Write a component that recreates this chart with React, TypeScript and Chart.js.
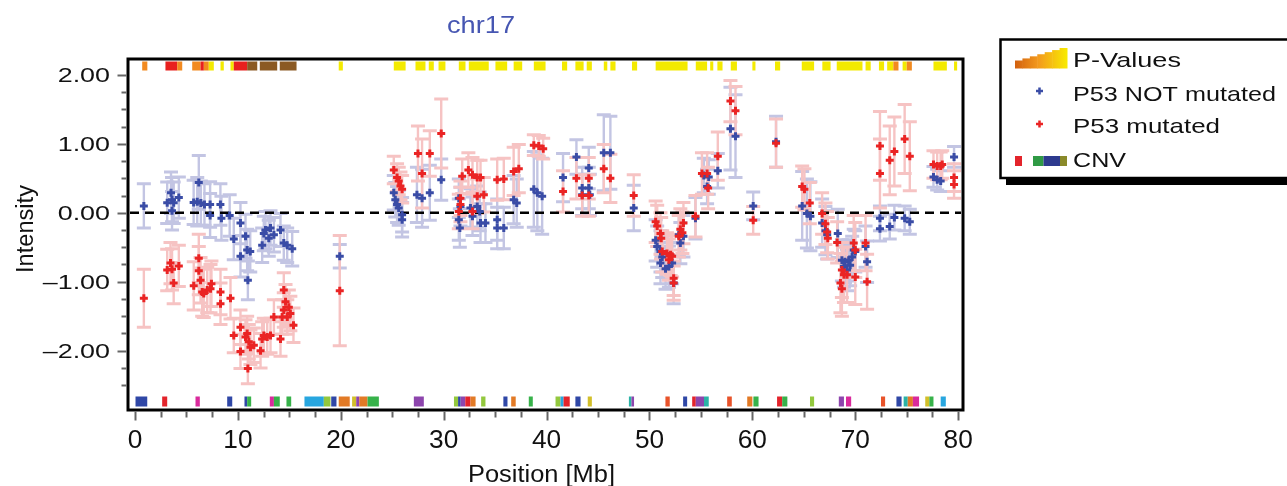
import React, { useEffect, useRef } from "react";
import { Chart, registerables } from "chart.js";

Chart.register(...registerables);

// ---------- data ----------
const notMutX = [0.86, 3.13, 3.5, 3.6, 3.76, 4.26, 3.6, 6.2, 5.7, 6.05, 6.4, 6.75, 7.3, 7.3, 8.3, 8.4, 9.2, 10.25, 9.6, 10.74, 10.25, 10.9, 11.2, 10.97, 12.36, 12.52, 12.68, 13.17, 13.5, 14.14, 14.46, 14.79, 15.28, 13.0, 19.9,
  25.15, 25.3, 25.47, 25.63, 25.96, 25.96, 27.4, 27.9, 28.65, 29.76, 31.47, 31.63, 31.47, 31.57, 32.6, 32.8, 33.26, 33.5, 33.58, 34.06, 35.2, 35.2, 35.84, 36.8, 37.1, 38.76, 39.1, 39.57, 41.6, 42.9, 43.46, 44.1, 44.1, 43.46, 44.2, 45.56, 46.2, 48.47,
  50.6, 50.75, 51.07, 51.24, 51.07, 51.56, 51.89, 52.2, 52.35, 52.85, 53.0, 53.3, 54.47, 55.28, 55.76, 55.6, 56.64, 57.87, 58.36, 60.08, 62.3, 64.84, 65.3, 65.64, 66.78, 67.1, 67.27, 68.3, 68.7, 69.0, 69.36, 68.9, 69.2, 69.5, 69.7, 70.0, 69.85, 71.0, 71.15, 72.4, 72.4, 73.35, 73.8, 74.8, 75.3, 77.6, 77.96, 78.3, 79.6];
const notMutY = [0.10, 0.145, 0.29, 0.19, 0.145, 0.22, 0.03, 0.44, 0.15, 0.16, 0.14, 0.12, 0.12, -0.04, 0.12, -0.08, -0.04, -0.15, -0.38, -0.34, -0.63, -0.54, -0.56, -0.98, -0.47, -0.30, -0.25, -0.22, -0.32, -0.25, -0.44, -0.47, -0.52, -0.37, -0.63,
  0.29, 0.19, 0.12, 0.07, -0.03, -0.10, 0.26, 0.21, 0.29, 0.48, 0.21, 0.09, -0.10, -0.22, 0.07, -0.05, 0.09, 0.02, -0.15, -0.15, -0.10, -0.22, -0.22, 0.19, 0.14, 0.34, 0.29, 0.24, 0.51, 0.81, 0.36, 0.36, 0.65, 0.26, 0.26, 0.87, 0.87, 0.07,
  -0.40, -0.49, -0.56, -0.64, -0.73, -0.81, -0.78, -0.73, -1.02, -0.32, -0.44, -0.34, -0.08, 0.54, 0.52, 0.38, 0.61, 1.22, 1.11, 0.10, 1.03, 0.10, -0.01, -0.05, -0.15, -0.26, -0.32, -0.30, -0.69, -0.71, -0.69, -0.78, -0.83, -0.76, -0.64, -0.56, -0.54, -0.49, -0.71, -0.08, -0.23, -0.20, -0.07, -0.08, -0.13, 0.52, 0.48, 0.46, 0.81];
const notMutErr = [0.32, 0.3, 0.3, 0.32, 0.3, 0.3, 0.28, 0.39, 0.32, 0.35, 0.32, 0.3, 0.33, 0.32, 0.3, 0.32, 0.3, 0.3, 0.3, 0.32, 0.3, 0.3, 0.3, 0.28, 0.25, 0.25, 0.27, 0.25, 0.25, 0.24, 0.25, 0.25, 0.25, 0.26, 0.17,
  0.25, 0.25, 0.26, 0.25, 0.25, 0.25, 0.4, 0.42, 0.4, 0.3, 0.28, 0.28, 0.3, 0.28, 0.28, 0.28, 0.3, 0.28, 0.28, 0.28, 0.3, 0.3, 0.3, 0.35, 0.35, 0.55, 0.55, 0.55, 0.35, 0.25, 0.3, 0.3, 0.3, 0.3, 0.3, 0.55, 0.53, 0.33,
  0.3, 0.3, 0.3, 0.3, 0.3, 0.3, 0.3, 0.3, 0.3, 0.3, 0.3, 0.3, 0.3, 0.25, 0.25, 0.25, 0.25, 0.6, 0.6, 0.2, 0.37, 0.5, 0.5, 0.5, 0.35, 0.35, 0.35, 0.35, 0.3, 0.3, 0.3, 0.3, 0.3, 0.3, 0.3, 0.3, 0.3, 0.3, 0.3, 0.18, 0.18, 0.18, 0.18, 0.18, 0.18, 0.15, 0.15, 0.15, 0.15];

const mutX = [0.86, 3.13, 3.45, 3.6, 4.26, 3.76, 6.2, 6.2, 6.37, 5.71, 6.53, 7.02, 7.34, 7.43, 6.68, 8.31, 8.31, 9.28, 9.6, 10.25, 10.74, 10.9, 11.06, 11.22, 10.25, 11.55, 12.2, 12.36, 12.52, 12.85, 13.17, 14.14, 10.97, 13.5, 14.3, 14.46, 14.63, 14.95, 15.1, 15.4, 14.46, 14.8, 19.9,
  25.15, 25.47, 25.63, 25.8, 25.96, 27.5, 27.9, 28.65, 29.76, 31.8, 32.4, 32.8, 33.26, 33.58, 31.63, 31.63, 31.47, 32.8, 33.26, 33.9, 35.2, 35.84, 36.8, 37.3, 38.76, 39.24, 39.67, 41.6, 42.9, 44.1, 43.46, 44.1, 45.56, 46.2, 48.47,
  50.6, 50.75, 51.07, 51.14, 51.24, 51.7, 52.05, 51.89, 52.2, 52.35, 52.35, 52.85, 53.0, 53.3, 53.2, 54.47, 55.1, 55.6, 55.7, 56.64, 57.87, 58.36, 60.08, 62.3, 64.84, 65.06, 65.58, 66.78, 67.1, 67.27, 67.33, 68.24, 68.7, 68.9, 69.2, 68.56, 68.7, 70.0, 69.85, 70.0, 71.0, 71.15, 72.4, 72.4, 73.35, 73.8, 74.8, 75.3, 77.6, 77.96, 78.3, 78.45, 79.6, 79.6];
const mutY = [-1.24, -0.83, -0.73, -0.82, -0.77, -1.02, -0.66, -0.84, -0.98, -1.06, -1.15, -1.12, -1.10, -1.03, -1.17, -1.15, -1.32, -1.24, -1.78, -1.66, -1.80, -1.75, -1.87, -1.95, -2.01, -1.92, -2.00, -1.83, -1.78, -1.80, -1.78, -1.83, -2.26, -1.51, -1.51, -1.12, -1.29, -1.37, -1.46, -1.63, -1.41, -1.51, -1.13,
  0.62, 0.51, 0.46, 0.39, 0.34, 0.86, 0.57, 0.86, 1.15, 0.53, 0.62, 0.55, 0.51, 0.51, 0.21, 0.12, 0.02, 0.02, 0.24, 0.26, 0.48, 0.49, 0.60, 0.64, 0.98, 0.97, 0.93, 0.31, 0.50, 0.50, 0.25, 0.25, 0.64, 0.50, 0.25,
  -0.13, -0.19, -0.30, -0.37, -0.56, -0.59, -0.61, -0.68, -0.63, -0.95, -1.02, -0.34, -0.24, -0.15, -0.29, -0.05, 0.57, 0.57, 0.36, 0.82, 1.62, 1.48, -0.11, 1.01, 0.38, 0.34, 0.14, -0.01, -0.16, -0.28, -0.37, -0.43, -0.83, -0.90, -0.90, -1.02, -1.10, -0.93, -0.44, -0.54, -0.44, -1.00, 0.97, 0.57, 0.76, 0.89, 1.07, 0.82, 0.70, 0.68, 0.68, 0.70, 0.51, 0.41];
const mutErr = [0.42, 0.3, 0.3, 0.3, 0.3, 0.3, 0.35, 0.35, 0.33, 0.35, 0.35, 0.33, 0.35, 0.33, 0.35, 0.33, 0.3, 0.3, 0.25, 0.25, 0.25, 0.25, 0.25, 0.25, 0.25, 0.25, 0.25, 0.25, 0.25, 0.25, 0.25, 0.25, 0.22, 0.25, 0.25, 0.25, 0.25, 0.25, 0.25, 0.25, 0.25, 0.25, 0.8,
  0.2, 0.2, 0.2, 0.2, 0.2, 0.4, 0.5, 0.33, 0.5, 0.25, 0.25, 0.25, 0.25, 0.25, 0.25, 0.25, 0.25, 0.25, 0.25, 0.25, 0.3, 0.3, 0.35, 0.35, 0.15, 0.15, 0.15, 0.3, 0.3, 0.3, 0.3, 0.3, 0.35, 0.35, 0.3,
  0.3, 0.3, 0.3, 0.3, 0.3, 0.3, 0.3, 0.3, 0.3, 0.25, 0.25, 0.3, 0.3, 0.3, 0.3, 0.3, 0.3, 0.3, 0.3, 0.35, 0.3, 0.35, 0.2, 0.35, 0.3, 0.3, 0.3, 0.3, 0.3, 0.3, 0.3, 0.3, 0.4, 0.4, 0.4, 0.43, 0.4, 0.4, 0.4, 0.4, 0.4, 0.4, 0.5, 0.5, 0.5, 0.5, 0.5, 0.5, 0.2, 0.2, 0.2, 0.2, 0.2, 0.2];

// P-value track (top): start, end [Mb], level
const pvStart = [0.7, 2.96, 4.1, 5.56, 6.37, 6.69, 7.17, 8.31, 9.28, 9.6, 10.9, 12.13, 14.07, 19.8, 25.15, 27.26, 28.55, 29.5, 31.47, 32.44, 35.03, 36.8, 38.76, 41.5, 42.8, 43.9, 45.56, 46.2, 48.3, 50.6, 54.5, 55.9, 56.6, 57.9, 60.0, 62.2, 64.8, 66.8, 68.2, 71.0, 72.3, 73.1, 73.7, 74.6, 75.0, 77.6, 79.6];
const pvEnd = [1.2, 4.1, 4.59, 6.37, 6.69, 7.17, 7.66, 8.63, 9.6, 10.9, 11.88, 13.82, 15.7, 20.2, 26.3, 28.23, 29.04, 30.17, 32.12, 34.38, 36.17, 37.63, 39.9, 42.0, 43.6, 44.4, 45.9, 46.7, 48.8, 53.7, 55.6, 56.2, 57.1, 58.5, 60.3, 62.7, 66.0, 67.6, 70.7, 71.5, 72.8, 73.7, 74.2, 75.0, 75.5, 78.9, 79.9];
const pvLevel = ["o", "r", "o", "o", "r", "o", "y", "y", "y", "r", "b", "b", "b", "y", "y", "y", "y", "y", "y", "y", "y", "y", "y", "y", "y", "y", "y", "y", "y", "y", "y", "y", "y", "y", "y", "y", "y", "y", "y", "y", "y", "y", "o", "y", "o", "y", "y"];

// CNV track (bottom): start, end [Mb], type
const cnvStart = [0.05, 2.64, 5.88, 8.96, 10.64, 10.9, 13.1, 13.5, 14.72, 16.47, 18.35, 19.07, 19.8, 21.1, 21.5, 21.8, 22.6, 27.1, 31.0, 31.4, 31.65, 32.1, 32.6, 33.64, 35.8, 36.56, 38.27, 40.87, 41.35, 41.65, 42.8, 44.0, 48.0, 48.25, 51.55, 53.27, 54.15, 54.5, 55.3, 57.55, 59.5, 60.1, 62.4, 62.9, 65.6, 68.4, 69.1, 72.5, 74.0, 74.7, 75.1, 75.6, 76.8, 77.2, 78.3];
const cnvEnd = [1.19, 3.13, 6.3, 9.45, 10.9, 11.29, 13.5, 14.07, 15.18, 18.35, 19.0, 19.58, 20.87, 21.5, 21.8, 22.6, 23.7, 28.07, 31.4, 31.65, 32.1, 32.6, 33.1, 34.06, 36.2, 37.0, 38.66, 41.35, 41.65, 42.25, 43.3, 44.4, 48.25, 48.5, 51.97, 53.66, 54.5, 55.3, 55.76, 58.0, 60.0, 60.6, 62.9, 63.4, 66.0, 68.9, 69.6, 72.9, 74.5, 75.1, 75.6, 76.2, 77.2, 77.6, 78.8];
const cnvType = ["B", "R", "M", "B", "B", "G", "M", "G", "G", "C", "L", "B", "O", "Y", "P", "O", "G", "P", "L", "B", "P", "R", "O", "L", "B", "O", "G", "L", "C", "R", "B", "Y", "T", "P", "V", "B", "R", "P", "T", "V", "O", "G", "R", "G", "L", "P", "M", "V", "B", "T", "O", "M", "Y", "G", "C"];

const xTicks = [0, 10, 20, 30, 40, 50, 60, 70, 80];
const xTickLabels = ["0", "10", "20", "30", "40", "50", "60", "70", "80"];
const yTicks = [2, 1, 0, -1, -2];
const yTickLabels = ["2.00", "1.00", "0.00", "\u20131.00", "\u20132.00"];

const titleText = "chr17";
const xTitle = "Position [Mb]";
const yTitle = "Intensity";
const legendLabels = ["P-Values", "P53 NOT mutated", "P53 mutated", "CNV"];

// ---------- styles ----------
const FONT = "'Liberation Sans', Arial, sans-serif";
const BLUE = "#3a4ca6";
const RED = "#ea2424";
const BLUE_ERR = "#c3c5e3";
const RED_ERR = "#f6c3c3";
const PV_COLORS: Record<string, string> = { y: "#f3ea00", o: "#f28a20", r: "#e8201e", b: "#8b5a24" };
const CNV_COLORS: Record<string, string> = {
  B: "#2f47a6", R: "#e3242b", M: "#d92a9c", G: "#37b24a", L: "#93c83e", C: "#28a6df",
  O: "#e27a26", Y: "#d2bf2a", P: "#8d45ad", T: "#2bb3a6", V: "#e8532a",
};

function drawText(ctx: CanvasRenderingContext2D, text: string, x: number, y: number, font: string,
  opts: { width?: number; scale?: number; align?: "left" | "center" | "right"; color?: string }) {
  ctx.save();
  ctx.font = font;
  ctx.fillStyle = opts.color || "#111";
  ctx.textAlign = "left";
  ctx.textBaseline = "alphabetic";
  const w = ctx.measureText(text).width;
  const s = opts.width ? opts.width / w : opts.scale || 1;
  const align = opts.align || "left";
  const x0 = align === "left" ? x : align === "center" ? x - (w * s) / 2 : x - w * s;
  ctx.translate(x0, y);
  ctx.scale(s, 1);
  ctx.fillText(text, 0, 0);
  ctx.restore();
}

function drawCross(ctx: CanvasRenderingContext2D, x: number, y: number, r: number, color: string) {
  ctx.save();
  ctx.strokeStyle = color;
  ctx.lineWidth = 2.5;
  ctx.beginPath();
  ctx.moveTo(x - r, y);
  ctx.lineTo(x + r, y);
  ctx.moveTo(x, y - r);
  ctx.lineTo(x, y + r);
  ctx.stroke();
  ctx.restore();
}

const decorPlugin = {
  id: "decor",
  beforeDatasetsDraw(chart: any) {
    const { ctx, chartArea: a } = chart;
    const xs = chart.scales.x;
    const ys = chart.scales.y;
    ctx.save();
    ctx.beginPath();
    ctx.rect(a.left, a.top, a.right - a.left, a.bottom - a.top);
    ctx.clip();
    // tracks
    for (let i = 0; i < pvStart.length; i++) {
      const x0 = xs.getPixelForValue(pvStart[i]);
      const x1 = xs.getPixelForValue(pvEnd[i]);
      ctx.fillStyle = PV_COLORS[pvLevel[i]];
      ctx.fillRect(x0, a.top + 2.5, x1 - x0, 9);
    }
    for (let i = 0; i < cnvStart.length; i++) {
      const x0 = xs.getPixelForValue(cnvStart[i]);
      const x1 = xs.getPixelForValue(cnvEnd[i]);
      ctx.fillStyle = CNV_COLORS[cnvType[i]];
      ctx.fillRect(x0, a.bottom - 13.5, x1 - x0, 10);
    }
    // error bars: blue first, red on top
    const order = [1, 0];
    order.forEach((di) => {
      const ds = chart.data.datasets[di];
      const col = di === 1 ? BLUE_ERR : RED_ERR;
      ctx.strokeStyle = col;
      ds.data.forEach((p: any) => {
        const px = xs.getPixelForValue(p.x);
        const yt = ys.getPixelForValue(p.y + p.err);
        const yb = ys.getPixelForValue(p.y - p.err);
        ctx.lineWidth = 2.4;
        ctx.beginPath();
        ctx.moveTo(px, yt);
        ctx.lineTo(px, yb);
        ctx.stroke();
        ctx.lineWidth = 3;
        ctx.beginPath();
        ctx.moveTo(px - 7, yt);
        ctx.lineTo(px + 7, yt);
        ctx.moveTo(px - 7, yb);
        ctx.lineTo(px + 7, yb);
        ctx.stroke();
      });
    });
    // zero line
    const y0 = ys.getPixelForValue(0);
    ctx.strokeStyle = "#000";
    ctx.lineWidth = 2.5;
    ctx.setLineDash([9, 6]);
    ctx.beginPath();
    ctx.moveTo(a.left + 2, y0);
    ctx.lineTo(a.right - 2, y0);
    ctx.stroke();
    ctx.restore();
  },
  afterDraw(chart: any) {
    const { ctx, chartArea: a } = chart;
    const xs = chart.scales.x;
    const ys = chart.scales.y;
    ctx.save();
    // frame
    ctx.strokeStyle = "#000";
    ctx.lineWidth = 3;
    ctx.strokeRect(a.left, a.top, a.right - a.left, a.bottom - a.top);
    // y ticks
    ctx.strokeStyle = "#666";
    ctx.lineWidth = 2;
    for (let v = -2.5; v <= 2.001; v += 0.25) {
      const py = Math.round(ys.getPixelForValue(v)) + 0.5;
      const major = Math.abs(v - Math.round(v)) < 1e-6;
      ctx.beginPath();
      ctx.moveTo(a.left - 1.5 - (major ? 9 : 5), py);
      ctx.lineTo(a.left - 1.5, py);
      ctx.stroke();
    }
    // x ticks
    for (let v = 0; v <= 80.001; v += 2.5) {
      const px = Math.round(xs.getPixelForValue(v)) + 0.5;
      const major = Math.abs(v / 10 - Math.round(v / 10)) < 1e-6;
      ctx.beginPath();
      ctx.moveTo(px, a.bottom + 1.5);
      ctx.lineTo(px, a.bottom + 1.5 + (major ? 9 : 6));
      ctx.stroke();
    }
    // tick labels
    yTicks.forEach((v, i) => {
      drawText(ctx, yTickLabels[i], 110, ys.getPixelForValue(v) + 7.5, `21px ${FONT}`, { scale: 1.28, align: "right" });
    });
    xTicks.forEach((v, i) => {
      drawText(ctx, xTickLabels[i], xs.getPixelForValue(v), 448, `25px ${FONT}`, { scale: 1.05, align: "center" });
    });
    // axis titles
    drawText(ctx, xTitle, 468, 482, `23px ${FONT}`, { width: 147 });
    ctx.save();
    ctx.translate(33, 229);
    ctx.rotate(-Math.PI / 2);
    drawText(ctx, yTitle, 0, 0, `23px ${FONT}`, { width: 88, align: "center" });
    ctx.restore();
    // title
    drawText(ctx, titleText, 447, 32.5, `24px ${FONT}`, { width: 68, color: "#4656b2" });

    // legend box with shadow
    ctx.fillStyle = "#000";
    ctx.fillRect(1006, 179, 400, 6);
    ctx.fillStyle = "#fff";
    ctx.fillRect(1001, 40.5, 400, 137);
    ctx.strokeStyle = "#000";
    ctx.lineWidth = 2.5;
    ctx.strokeRect(1000.5, 39.5, 400, 138.5);
    // P-values ramp
    const grad = ctx.createLinearGradient(1015, 0, 1067, 0);
    grad.addColorStop(0, "#d2600f");
    grad.addColorStop(0.45, "#f39a1e");
    grad.addColorStop(1, "#f8ea00");
    ctx.fillStyle = grad;
    const steps = 7;
    for (let i = 0; i < steps; i++) {
      const sx = 1015 + (i * 52) / steps;
      const top = 60.5 - (12.5 * i) / (steps - 1);
      ctx.fillRect(sx, top, 52 / steps + 0.5, 68.5 - top);
    }
    drawText(ctx, legendLabels[0], 1073, 67.3, `21px ${FONT}`, { width: 108 });
    drawCross(ctx, 1039.5, 91, 3.5, BLUE);
    drawText(ctx, legendLabels[1], 1073, 100.7, `21px ${FONT}`, { width: 203 });
    drawCross(ctx, 1039.5, 124, 3.5, RED);
    drawText(ctx, legendLabels[2], 1073, 133.3, `21px ${FONT}`, { width: 147 });
    // CNV icon
    ctx.fillStyle = "#e3242b";
    ctx.fillRect(1015, 156, 7, 10);
    ctx.fillStyle = "#2f9a45";
    ctx.fillRect(1033, 156, 10.5, 10);
    ctx.fillStyle = "#2d3a8e";
    ctx.fillRect(1043.5, 156, 16.5, 10);
    ctx.fillStyle = "#8a8a2a";
    ctx.fillRect(1060, 156, 7, 10);
    drawText(ctx, legendLabels[3], 1073, 166.7, `21px ${FONT}`, { width: 53 });
    ctx.restore();
  },
};

export default function App() {
  const ref = useRef<HTMLCanvasElement | null>(null);
  useEffect(() => {
    if (!ref.current) return;
    const chart = new Chart(ref.current, {
      type: "scatter",
      data: {
        datasets: [
          {
            label: legendLabels[2],
            data: mutX.map((x, i) => ({ x, y: mutY[i], err: mutErr[i] })),
            pointStyle: "cross",
            pointRadius: 4,
            pointBorderWidth: 3,
            borderColor: RED,
            backgroundColor: RED,
            showLine: false,
            order: 0,
          },
          {
            label: legendLabels[1],
            data: notMutX.map((x, i) => ({ x, y: notMutY[i], err: notMutErr[i] })),
            pointStyle: "cross",
            pointRadius: 4,
            pointBorderWidth: 3,
            borderColor: BLUE,
            backgroundColor: BLUE,
            showLine: false,
            order: 1,
          },
        ],
      },
      options: {
        responsive: false,
        animation: false,
        devicePixelRatio: 1,
        layout: { padding: { left: 128, top: 59, right: 324, bottom: 76 } },
        scales: {
          x: { type: "linear", min: -0.68, max: 80.47, display: false },
          y: { type: "linear", min: -2.86, max: 2.23, display: false },
        },
        plugins: { legend: { display: false }, tooltip: { enabled: false }, title: { display: false } },
        events: [],
      } as any,
      plugins: [decorPlugin],
    });
    return () => chart.destroy();
  }, []);
  return (
    <div style={{ position: "absolute", left: 0, top: 0, width: 1287, height: 486, background: "#fff" }}>
      <canvas ref={ref} width={1287} height={486} style={{ display: "block" }} />
    </div>
  );
}
